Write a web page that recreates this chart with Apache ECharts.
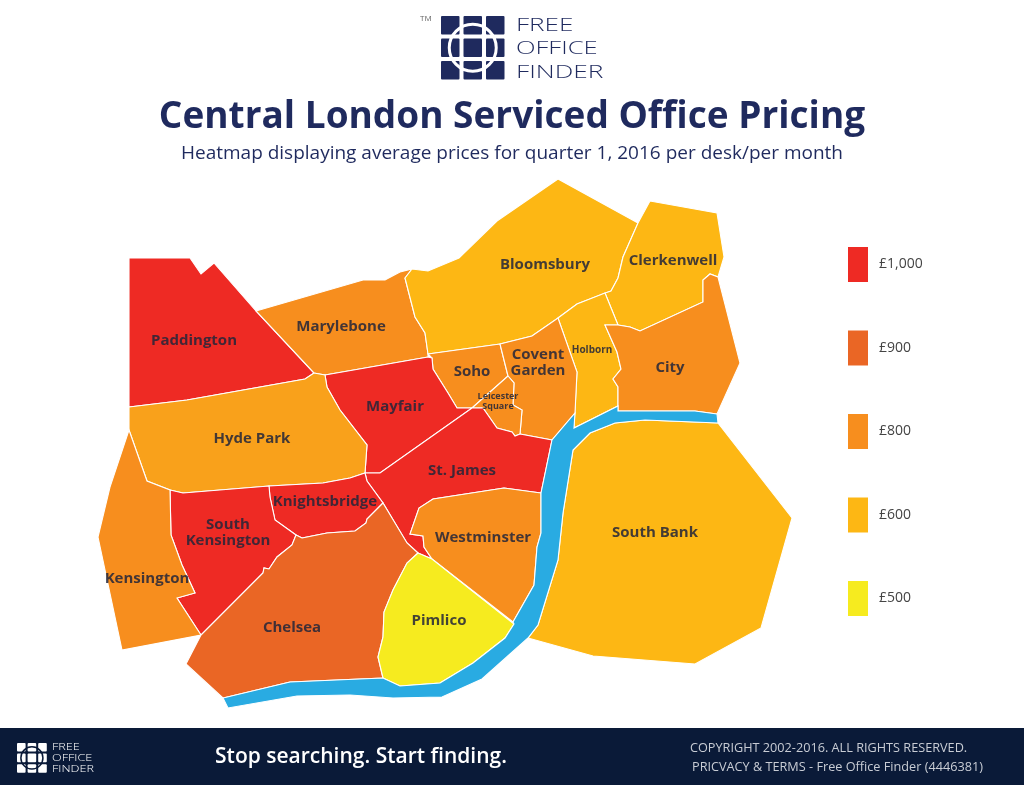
<!DOCTYPE html>
<html>
<head>
<meta charset="utf-8">
<title>Central London Serviced Office Pricing</title>
<script src="https://cdn.jsdelivr.net/npm/echarts@6/dist/echarts.min.js"></script>
<style>
    html, body { margin: 0; padding: 0; background: #fff; }
    #main { width: 1024px; height: 786px; }
</style>
</head>
<body>
<div id="main"></div>
<script>
var regionNames = ['Paddington', 'Marylebone', 'Bloomsbury', 'Clerkenwell', 'Holborn', 'City',
    'Soho', 'Covent Garden', 'Leicester Square', 'Mayfair', 'Hyde Park', 'St. James',
    'Knightsbridge', 'South Kensington', 'Kensington', 'Chelsea', 'Westminster', 'Pimlico', 'South Bank'];
var regionPrices = [1000, 800, 600, 600, 600, 800,
    800, 800, 800, 1000, 700, 1000,
    1000, 1000, 800, 900, 800, 500, 600];
var legendPrices = [1000, 900, 800, 600, 500];
var legendLabels = ['£1,000', '£900', '£800', '£600', '£500'];
var legendColors = ['#ee2a24', '#ea6625', '#f78e1e', '#fdb714', '#f6eb1f'];

// district outlines
var boundaries = {
    'Paddington': [[129,258],[190,258],[201,274],[214,263],[256,311],[314,373],[305,379],[187,400],[129,407]],
    'Marylebone': [[256,311],[363,280],[385,280],[400,272],[412,269],[405,278],[415,317],[425,333],[428,354],[428,357],[325,375],[314,373]],
    'Bloomsbury': [[412,269],[428,271],[459,258],[497,221],[558,179],[638,223],[623,257],[618,278],[611,291],[577,304],[558,318],[532,336],[500,344],[428,354],[425,333],[415,317],[405,278]],
    'Clerkenwell': [[650,201],[717,213],[724,257],[718,277],[710,274],[703,280],[703,302],[640,331],[630,327],[618,325],[605,293],[611,291],[618,278],[623,257],[638,223]],
    'Holborn': [[558,318],[577,304],[605,293],[618,325],[605,325],[617,352],[621,369],[613,379],[618,387],[618,406],[574,428],[577,372]],
    'City': [[605,325],[618,325],[630,327],[640,331],[703,302],[703,280],[710,274],[718,277],[740,363],[717,414],[695,411],[618,411],[618,387],[613,379],[621,369],[617,352]],
    'Soho': [[428,354],[500,344],[508,376],[472,408],[457,408],[448,393],[433,369],[432,358]],
    'Covent Garden': [[500,344],[532,336],[558,318],[577,372],[575,413],[552,440],[520,434],[522,410],[513,405],[514,383],[508,376]],
    'Leicester Square': [[508,376],[514,383],[513,405],[522,410],[520,434],[515,436],[512,432],[497,428],[483,408],[472,408]],
    'Mayfair': [[325,375],[428,357],[432,358],[433,369],[448,393],[457,408],[472,408],[380,473],[365,473],[367,445],[340,410],[327,387]],
    'Hyde Park': [[129,407],[187,400],[305,379],[314,373],[325,375],[327,387],[340,410],[367,445],[365,473],[350,478],[323,483],[269,486],[183,493],[170,490],[147,481],[129,430]],
    'St. James': [[472,408],[483,408],[497,428],[512,432],[515,436],[520,434],[552,440],[541,493],[504,488],[433,499],[419,508],[410,534],[423,536],[424,547],[432,559],[418,553],[407,543],[383,503],[367,481],[365,473],[380,473]],
    'Knightsbridge': [[269,486],[323,483],[350,478],[365,473],[367,481],[383,503],[367,519],[366,523],[355,531],[327,533],[302,538],[296,535],[275,520],[270,497]],
    'South Kensington': [[170,490],[183,493],[269,486],[270,497],[275,520],[296,535],[292,545],[277,557],[269,569],[264,568],[263,573],[201,635],[177,598],[195,593],[182,565],[171,535]],
    'Kensington': [[129,430],[147,481],[170,490],[171,535],[182,565],[195,593],[177,598],[201,635],[122,650],[98,537],[110,487]],
    'Chelsea': [[302,538],[327,533],[355,531],[366,523],[367,519],[383,503],[407,543],[418,553],[407,563],[393,590],[384,612],[383,637],[378,657],[383,678],[290,682],[223,698],[186,664],[201,635],[263,573],[264,568],[269,569],[277,557],[292,545],[296,535]],
    'Westminster': [[541,493],[504,488],[433,499],[419,508],[410,534],[423,536],[424,547],[432,559],[513,622],[534,585],[537,547],[541,533]],
    'Pimlico': [[418,553],[432,559],[514,624],[505,638],[473,663],[440,683],[400,686],[383,678],[378,657],[383,637],[384,612],[393,590],[407,563]],
    'South Bank': [[573,450],[590,433],[615,423],[645,420],[718,423],[792,518],[761,628],[695,664],[593,656],[528,638],[538,625],[558,560],[563,513]],
    'River Thames': [[717,414],[695,411],[618,411],[618,406],[574,428],[575,413],[552,440],[541,493],[541,533],[537,547],[534,585],[513,622],[514,624],[505,638],[473,663],[440,683],[400,686],[383,678],[290,682],[223,698],[228,708],[297,696],[350,695],[393,698],[442,697],[482,679],[528,638],[538,625],[558,560],[563,513],[573,450],[590,433],[615,423],[645,420],[718,423]]
};

// where each district's name sits
var labelCentres = {
    'Paddington': [194,341], 'Marylebone': [341,327], 'Bloomsbury': [545,265], 'Clerkenwell': [673,261],
    'Holborn': [592,350], 'City': [670,368], 'Soho': [472,372], 'Covent Garden': [538,363],
    'Leicester Square': [498,401], 'Mayfair': [395,407], 'Hyde Park': [252,439], 'St. James': [462,471],
    'Knightsbridge': [325,502], 'South Kensington': [228,533], 'Kensington': [147,579], 'Chelsea': [292,628],
    'Westminster': [483,538], 'Pimlico': [439,621], 'South Bank': [655,533]
};
var twoLineNames = {
    'Covent Garden': 'Covent\nGarden',
    'Leicester Square': 'Leicester\nSquare',
    'South Kensington': 'South\nKensington'
};
var smallNames = { 'Holborn': 10, 'Leicester Square': 9 };

var features = Object.keys(boundaries).map(function (name) {
    return {
        type: 'Feature',
        properties: { name: name, cp: labelCentres[name] },
        geometry: { type: 'Polygon', coordinates: [boundaries[name].concat([boundaries[name][0]])] }
    };
});
echarts.registerMap('london', { type: 'FeatureCollection', features: features });

var seriesData = regionNames.map(function (name, i) {
    var size = smallNames[name] || 15;
    return {
        name: name,
        value: regionPrices[i],
        label: { fontSize: size, lineHeight: size + 1 }
    };
});
seriesData.push({
    name: 'River Thames',
    itemStyle: { areaColor: '#29abe2' },
    label: { show: false }
});

var navy = '#1f2a5e';
var footerNavy = '#0a1a38';

function logoIcon(x, y, cell, gap, fill, ringColor, ringWidth) {
    var items = [];
    for (var r = 0; r < 3; r++) {
        for (var c = 0; c < 3; c++) {
            items.push({
                type: 'rect',
                shape: { x: x + c * (cell + gap), y: y + r * (cell + gap), width: cell, height: cell, r: 1 },
                style: { fill: fill }
            });
        }
    }
    var size = cell * 3 + gap * 2;
    items.push({
        type: 'circle',
        shape: { cx: x + size / 2, cy: y + size / 2, r: size * 0.37 },
        style: { fill: 'none', stroke: ringColor, lineWidth: ringWidth }
    });
    return items;
}

function logoWord(text, x, y, size, scale, fill) {
    return {
        type: 'text',
        x: x,
        y: y,
        scaleX: scale,
        originX: 0,
        style: {
            text: text,
            fill: fill,
            font: '300 ' + size + 'px "Open Sans"',
            textVerticalAlign: 'middle'
        }
    };
}

var graphics = [
    { type: 'rect', shape: { x: 0, y: 728, width: 1024, height: 57 }, style: { fill: footerNavy } }
];
graphics = graphics.concat(logoIcon(441, 16, 18.5, 4, navy, '#fff', 3));
graphics = graphics.concat([
    { type: 'text', x: 420, y: 15, style: { text: 'TM', fill: '#666', font: '8px "Open Sans"' } },
    logoWord('FREE', 516, 26, 18, 1.45, navy),
    logoWord('OFFICE', 516, 49, 18, 1.42, navy),
    logoWord('FINDER', 516, 73, 18, 1.46, navy)
]);
graphics = graphics.concat(logoIcon(17, 743, 8.6, 2, '#fff', footerNavy, 1.5));
graphics = graphics.concat([
    logoWord('FREE', 52, 747, 9, 1.4, '#fff'),
    logoWord('OFFICE', 52, 758, 9, 1.4, '#fff'),
    logoWord('FINDER', 52, 769, 9, 1.4, '#fff'),
    {
        type: 'text', x: 361, y: 757,
        style: {
            text: 'Stop searching. Start finding.', fill: '#fff',
            font: '600 21px "Open Sans"', textAlign: 'center', textVerticalAlign: 'middle'
        }
    },
    {
        type: 'text', x: 690, y: 748,
        style: {
            text: 'COPYRIGHT 2002-2016. ALL RIGHTS RESERVED.', fill: '#c8ccd4',
            font: '12.7px "Open Sans"', textVerticalAlign: 'middle'
        }
    },
    {
        type: 'text', x: 692, y: 767,
        style: {
            text: 'PRICVACY & TERMS - Free Office Finder (4446381)', fill: '#c8ccd4',
            font: '12.7px "Open Sans"', textVerticalAlign: 'middle'
        }
    }
]);

var myChart = echarts.init(document.getElementById('main'));
var option = {
    backgroundColor: '#fff',
    animation: false,
    title: [{
        text: 'Central London Serviced Office Pricing',
        left: 'center',
        top: 94,
        textStyle: { color: navy, fontFamily: 'Open Sans', fontWeight: 'bold', fontSize: 37 }
    }, {
        text: 'Heatmap displaying average prices for quarter 1, 2016 per desk/per month',
        left: 'center',
        top: 139,
        textStyle: { color: navy, fontFamily: 'Open Sans', fontWeight: 'normal', fontSize: 19 }
    }],
    visualMap: {
        type: 'piecewise',
        seriesIndex: 0,
        orient: 'vertical',
        align: 'left',
        left: 833,
        top: 232,
        itemWidth: 20,
        itemHeight: 35,
        itemGap: 48.5,
        textGap: 11,
        itemSymbol: 'rect',
        selectedMode: false,
        hoverLink: false,
        textStyle: { color: '#444', fontFamily: 'Open Sans', fontSize: 14 },
        pieces: legendPrices.map(function (price, i) {
            return { value: price, label: legendLabels[i], color: legendColors[i] };
        }),
        outOfRange: { color: '#f9a11b' }
    },
    series: [{
        type: 'map',
        map: 'london',
        projection: {
            project: function (p) { return p; },
            unproject: function (p) { return p; }
        },
        left: 98,
        top: 179,
        width: 694,
        height: 529,
        roam: false,
        silent: true,
        data: seriesData,
        itemStyle: { areaColor: '#29abe2', borderColor: '#fff', borderWidth: 1.1 },
        label: {
            show: true,
            color: 'rgba(35,38,58,0.85)',
            fontFamily: 'Open Sans',
            fontWeight: 'bold',
            fontSize: 15,
            align: 'center',
            formatter: function (p) { return twoLineNames[p.name] || p.name; }
        },
        emphasis: { disabled: true }
    }],
    graphic: graphics
};
myChart.setOption(option);
</script>
</body>
</html>
